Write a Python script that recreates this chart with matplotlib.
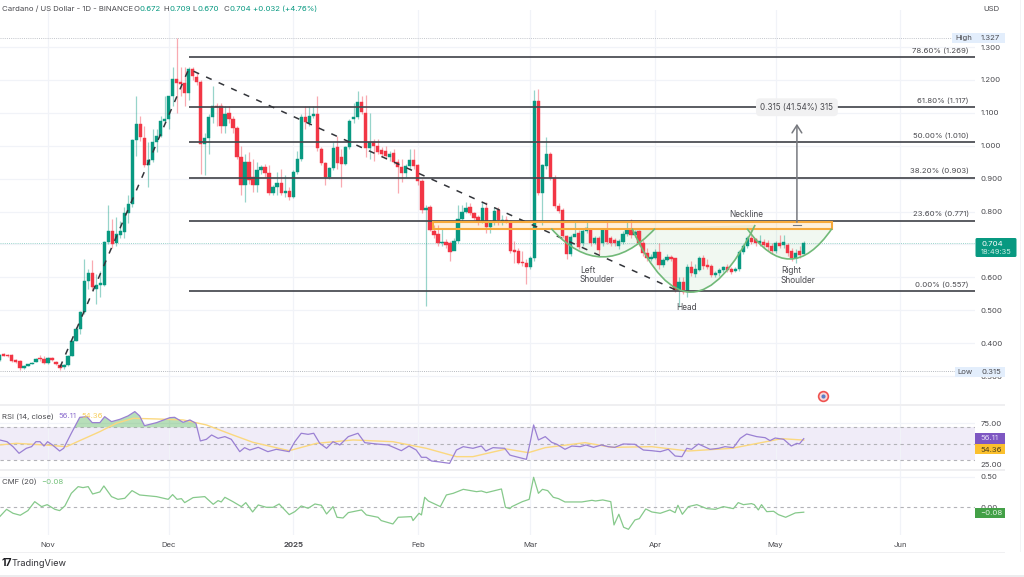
import numpy as np
import matplotlib
matplotlib.use("Agg")
import matplotlib.pyplot as plt
from matplotlib.patches import PathPatch, Rectangle, FancyBboxPatch
from matplotlib.path import Path

plt.rcParams['font.family'] = ['Inter', 'DejaVu Sans']

opens = [.349,.366,.365,.365,.350,.346,.323,.330,.336,.343,
 .355,.353,.339,.356,.343,.333,.327,.333,.362,.407,
 .444,.495,.589,.612,.566,.577,.578,.706,.742,.703,
 .730,.739,.797,.822,1.017,1.065,1.022,.941,.958,1.012,
 1.030,1.076,1.080,1.150,1.202,1.195,1.190,1.159,1.233,1.210,
 1.195,1.004,1.022,1.088,1.120,1.120,1.060,1.098,1.080,1.053,
 .967,.880,.950,.906,.880,.925,.936,.916,.857,.875,
 .888,.857,.861,.843,.919,.959,1.088,1.070,1.090,1.095,
 .990,.947,.906,.931,.997,.965,.944,.995,1.080,1.088,
 1.132,1.100,.992,1.010,1.000,.987,.985,.966,.977,.952,
 .934,.916,.938,.958,.940,.894,.805,.815,.742,.733,
 .703,.708,.703,.681,.711,.776,.800,.813,.797,.782,
 .769,.812,.754,.769,.804,.772,.775,.771,.683,.681,
 .647,.644,.630,.658,1.137,.855,.938,.974,.903,.817,
 .804,.725,.671,.723,.735,.705,.741,.746,.703,.718,
 .703,.748,.718,.713,.695,.708,.733,.744,.728,.740,
 .703,.675,.655,.660,.677,.637,.653,.661,.658,.562,
 .587,.556,.630,.610,.622,.658,.637,.634,.607,.612,
 .622,.630,.624,.620,.624,.678,.695,.721,.715,.705,
 .706,.703,.695,.681,.703,.698,.698,.680,.658,.680,.672]
closes = [.364,.362,.362,.346,.344,.323,.330,.336,.341,.353,
 .351,.340,.355,.349,.336,.323,.332,.362,.407,.444,
 .495,.589,.612,.571,.577,.582,.706,.742,.701,.733,
 .742,.797,.822,1.017,1.065,1.025,.941,.958,1.012,1.030,
 1.076,1.080,1.150,1.202,1.192,1.188,1.159,1.233,1.212,1.195,
 1.004,1.022,1.088,1.120,1.118,1.060,1.096,1.080,1.053,.967,
 .880,.952,.896,.880,.926,.936,.916,.857,.875,.888,
 .857,.861,.843,.919,.959,1.088,1.073,1.090,1.095,.992,
 .947,.906,.931,.994,.947,.944,.995,1.076,1.088,1.132,
 1.103,.992,1.010,1.000,.982,.974,.970,.974,.952,.934,
 .916,.938,.958,.938,.894,.805,.812,.744,.729,.703,
 .708,.698,.678,.711,.776,.800,.810,.797,.779,.769,
 .810,.754,.769,.802,.775,.775,.772,.681,.678,.645,
 .642,.630,.658,1.137,.855,.941,.974,.903,.817,.803,
 .725,.671,.723,.733,.693,.741,.750,.703,.718,.683,
 .743,.708,.703,.703,.710,.733,.744,.728,.737,.703,
 .673,.658,.662,.677,.637,.653,.663,.655,.562,.587,
 .556,.630,.612,.624,.658,.634,.630,.607,.612,.622,
 .630,.622,.617,.625,.678,.695,.721,.708,.703,.710,
 .698,.691,.681,.703,.695,.708,.675,.658,.675,.668,.704]
highs = [.368,.370,.368,.367,.352,.348,.332,.338,.343,.356,
 .363,.360,.358,.358,.346,.335,.335,.365,.410,.450,
 .497,.657,.625,.652,.610,.620,.710,.820,.778,.784,
 .770,.815,.850,1.020,1.150,1.090,1.060,1.010,1.050,1.050,
 1.090,1.150,1.152,1.240,1.327,1.240,1.240,1.240,1.240,1.220,
 1.200,1.040,1.095,1.180,1.130,1.130,1.120,1.120,1.090,1.060,
 1.000,.975,.980,.960,.950,.940,.945,.940,.880,.920,
 .930,.910,.875,.925,.985,1.095,1.120,1.120,1.120,1.150,
 .995,.950,.935,1.010,1.030,.990,1.000,1.080,1.130,1.165,
 1.150,1.155,1.100,1.020,1.020,.995,1.000,.985,.990,.960,
 .960,.945,.990,.990,.945,.900,.820,.820,.760,.760,
 .750,.715,.710,.720,.820,.820,.830,.825,.800,.790,
 .830,.830,.775,.815,.815,.790,.785,.775,.710,.690,
 .680,.655,.665,1.170,1.173,.945,1.025,.980,.910,.825,
 .810,.730,.730,.770,.745,.750,.770,.750,.725,.725,
 .750,.775,.725,.720,.715,.740,.770,.778,.745,.745,
 .712,.690,.672,.685,.705,.660,.670,.668,.660,.600,
 .600,.640,.650,.640,.665,.668,.655,.640,.620,.628,
 .635,.640,.630,.630,.682,.700,.725,.750,.720,.730,
 .715,.712,.705,.710,.728,.730,.705,.690,.685,.695,.709]
lows = [.345,.360,.358,.342,.340,.318,.322,.330,.335,.342,
 .345,.335,.335,.345,.332,.318,.322,.330,.360,.405,
 .428,.490,.565,.560,.519,.541,.575,.700,.690,.695,
 .720,.720,.765,.815,.970,1.015,.935,.875,.950,.980,
 1.025,1.070,1.050,1.120,1.100,1.150,1.120,1.140,1.200,1.185,
 .915,.910,.975,1.070,1.060,1.040,1.040,1.070,1.040,.960,
 .850,.830,.885,.860,.860,.915,.905,.850,.850,.850,
 .850,.845,.835,.840,.915,.955,1.050,1.060,1.085,.985,
 .940,.880,.900,.925,.930,.875,.940,.990,1.070,1.080,
 1.095,.965,.960,.955,.975,.965,.960,.955,.945,.855,
 .890,.905,.930,.930,.880,.795,.513,.740,.720,.695,
 .695,.690,.650,.690,.705,.770,.795,.790,.775,.760,
 .765,.735,.735,.760,.760,.760,.765,.675,.645,.640,
 .635,.580,.625,.650,.850,.760,.930,.895,.810,.795,
 .720,.655,.665,.725,.685,.695,.735,.695,.700,.670,
 .695,.700,.695,.695,.685,.700,.725,.720,.722,.695,
 .665,.650,.650,.655,.625,.630,.650,.650,.555,.510,
 .550,.539,.605,.600,.618,.625,.625,.600,.600,.605,
 .615,.615,.610,.615,.620,.670,.690,.700,.695,.695,
 .690,.680,.670,.675,.690,.690,.665,.650,.645,.660,.670]

rsi_days = [0,1.8,3.3,4.8,6.6,7.9,9,10,11,11.9,13.1,14.9,15.9,17.8,19.9,21.7,23,24.9,26.1,27.8,29.9,31.9,33.6,34.8,36,39,42.3,43.5,45.6,47.3,48.8,49.9,51.4,52.7,54.3,56,57.6,59.7,60.9,62.2,64.3,66.7,68.8,72,73.4,75,76.7,78.1,79.6,81.3,82.9,84.6,86.7,89.1,90.8,93.7,96.6,99.9,101.8,103.6,104.9,106.1,107.4,109.5,111.9,113.6,115.3,117.7,119.8,120.9,122.7,125.6,126.9,127.4,129,131,131.9,132.8,134,135.7,137.3,138.6,140.6,142.3,144.4,145.8,147.7,149.7,151.4,153,155.1,158,160.1,162.2,164.3,166.3,168,169.7,170.9,172.1,173.8,176.7,178.8,180.4,182.5,184.2,185.8,188.3,190.4,191.6,192.9,195,196.9,198.3,198.9,200]
rsi_vals = [54.5,52.4,46.3,38.2,44.3,46.3,52.4,52.4,47.1,52.4,48.4,41,44.3,62.7,82.2,83,75.7,75.7,83,76.9,79.8,83.9,89.2,83.9,72,75.7,81.8,82.2,76.1,79,74.9,53.3,55.3,60.6,56.5,58.6,55.3,40.2,45.1,42.2,45.5,40.2,43.1,40.2,52.4,62.7,61.4,62.7,50.4,44.3,52.4,48.4,58.6,62.7,51.2,49.6,48.4,41.4,47.1,42.2,33.3,33.3,28.8,27.6,25.9,42.2,46.3,44.3,47.1,41,45.1,44.3,36.1,35.3,33.3,30.8,50.4,72.9,54.5,58.6,51.6,49.2,43.1,47.1,46.3,48.4,45.5,48.4,46.3,45.5,49.6,49.2,42.2,41.4,40.2,43.1,34.9,34.1,44.3,43.1,49.6,43.1,44.3,46.3,45.1,56.5,61.8,58.6,57.3,53.7,56.9,55.3,47.1,50.4,49.6,56.11]
ma_days = [0,4.1,11.2,16.6,19.9,24.9,29,33.2,39,45.6,51.4,58,63,72,78.8,87.9,97.8,106.1,113.6,117.7,126,131.5,135.7,145.6,152.2,162.2,171.3,182.1,192,194.5,200]
ma_vals = [48.4,50.4,48.4,46.3,53.7,64.7,74.9,81,80.2,79,72.9,60.6,51.6,41.4,50.4,54.5,52.4,44.3,34.1,34.1,43.5,39,45.1,51.2,45.5,46.3,41,44.3,53.7,56.1,54.36]
cmf_days = [0,1.7,3.3,5.1,7,8.7,10.4,11.8,13.7,14.9,16.2,17.8,19.5,20.7,22,23.1,24.9,25.9,27.8,29.4,31.1,32.9,34.8,39,41.9,43,44.1,45.2,46,48.1,51,53.1,54.3,55.1,56,58,60.1,61.2,62.9,64.3,66.3,68,69.5,72,73.4,75,76.7,78.4,80,81.3,82.9,83.9,85.4,86.7,90,91.2,94.1,94.9,97.8,99.1,102.4,102.8,104.3,104.9,105.7,106.6,109.6,111.1,112.8,115.3,118.6,119.8,121.1,124.8,125.8,126.9,127.4,130,131.7,132.8,134,135,136.3,137.7,139,140.6,144.8,147.3,148.2,150,152,152.8,154,155.2,156.4,158,159.1,160.7,162.2,164.3,166.7,168,168.7,169.8,171.3,173.4,175.9,178,180,182.5,183.7,185,187,187.7,188.7,189.5,190.8,192.5,193.7,195.5,197.9,200]
cmf_vals = [-.152,-.033,-.098,-.13,-.054,.092,.011,.043,-.033,-.054,.022,.228,.337,.321,.337,.217,.25,.348,.174,.13,.147,.272,.201,.174,.13,.207,.13,.141,.076,.158,.174,.049,.109,.087,.163,.092,.011,.076,-.076,.038,0,0,.054,-.12,-.071,.022,-.016,.054,.033,-.109,.011,-.163,-.174,-.087,-.043,-.125,-.163,-.217,-.272,-.163,-.152,-.217,-.098,-.125,.163,.103,.011,.201,.228,.293,.255,.266,.239,.299,0,-.022,.011,.092,.13,.489,.228,.293,.272,.163,.141,.087,.087,.114,.103,.12,.092,-.288,-.114,-.326,-.359,-.207,-.185,-.027,-.076,-.098,-.043,-.087,.033,-.114,.011,.043,-.022,-.033,.011,-.022,.076,.043,.06,.043,-.043,.043,-.071,-.065,-.12,-.163,-.092,-.08]

fib_levels = [1.269, 1.117, 1.010, 0.903, 0.771, 0.557]
fib_labels = ['78.60% (1.269)', '61.80% (1.117)', '50.00% (1.010)', '38.20% (0.903)', '23.60% (0.771)', '0.00% (0.557)']
fib_start = 47
trend_days = [15, 47, 169]
trend_prices = [0.327, 1.233, 0.557]
price_ticks = [1.3, 1.2, 1.1, 1.0, 0.9, 0.8, 0.7, 0.6, 0.5, 0.4, 0.3]
month_days = [12, 42, 73, 104, 132, 163, 193, 224]
month_labels = ['Nov', 'Dec', '2025', 'Feb', 'Mar', 'Apr', 'May', 'Jun']
high_price, low_price, last_price = 1.327, 0.315, 0.704

W, H = 1024, 577
GREEN, RED = '#089981', '#F23645'
GRID = '#f1f3f8'
TXT = '#4a4a4f'
FS = 5.6

fig = plt.figure(figsize=(W / 100, H / 100), dpi=100, facecolor='white')
def rect(top, bottom, right=975):
    return [0, 1 - bottom / H, right / W, (bottom - top) / H]

ax = fig.add_axes(rect(10, 405))
ax_r = fig.add_axes(rect(406, 469))
ax_c = fig.add_axes(rect(471, 535))
XL = (0.06, 242.6)
for a in (ax, ax_r, ax_c):
    a.set_xlim(*XL)
    for s in a.spines.values():
        s.set_visible(False)
    a.set_xticks(month_days)
    a.grid(True, axis='x', color=GRID, lw=0.9)
    a.set_axisbelow(True)
    a.yaxis.tick_right()
    a.tick_params(length=0, labelsize=FS, labelcolor=TXT, pad=4)
ax.set_ylim(0.2119, 1.4125)
ax_r.set_ylim(19, 96.05)
ax_c.set_ylim(-0.452, 0.592)
ax.set_xticklabels([])
ax_r.set_xticklabels([])
ax_c.set_xticklabels(month_labels)
ax_c.tick_params(axis='x', pad=5)
for t, lab in zip(ax_c.get_xticklabels(), month_labels):
    if lab == '2025':
        t.set_fontweight('bold')

ax.set_yticks(price_ticks)
ax.set_yticklabels([f'{v:.3f}' for v in price_ticks])
ax.grid(True, axis='y', color=GRID, lw=0.9)
ax_r.set_yticks([75, 25])
ax_r.set_yticklabels(['75.00', '25.00'])
ax_c.set_yticks([0.5, 0.0])
ax_c.set_yticklabels(['0.50', '0.00'])
ax_c.axhline(0.5, color=GRID, lw=0.9, zorder=0)
ax_r.axhline(75, color=GRID, lw=0.9, zorder=0)

# level dots
ax.axhline(high_price, color='#c2c5cb', lw=0.7, ls=(0, (1, 1.2)), zorder=1)
ax.axhline(low_price, color='#b6b9bf', lw=0.7, ls=(0, (1, 1.2)), zorder=1)
ax.axhline(last_price, color=GREEN, lw=0.7, ls=(0, (1, 1.2)), alpha=.4, zorder=1)

# candles
days = np.arange(len(closes))
o, h, l, c = map(np.array, (opens, highs, lows, closes))
up = c >= o
cols = np.where(up, GREEN, RED)
ax.vlines(days, l, h, colors=cols, lw=0.9, alpha=.42, zorder=3)
ax.bar(days, np.abs(c - o), bottom=np.minimum(o, c), width=.82, color=cols, lw=.3, edgecolor=cols, zorder=4)

# fibonacci
for lv, lab in zip(fib_levels, fib_labels):
    ax.hlines(lv, fib_start, XL[1], color='#46484e', lw=1.25, zorder=5)
    ax.annotate(lab, (241.1, lv), xytext=(0, 5), textcoords='offset points', ha='right', va='center',
                fontsize=FS, color=TXT, zorder=6)

# trend
ax.plot(trend_days, trend_prices, color='#33353a', lw=1.1, ls=(0, (4, 5)), zorder=5)

# neckline box
ax.add_patch(Rectangle((107.8, .748), 99.3, .021, fc='#ffb74d', alpha=.2, ec='none', zorder=2))
ax.add_patch(Rectangle((107.8, .748), 99.3, .021, fc='none', ec='#f7a93a', lw=1.5, zorder=6))

# cup arcs
arcs = [((137.2, .748), (149.8, .576), (163.0, .748)),
        ((157.3, .748), (171.7, .3565), (187.9, .759)),
        ((185.9, .748), (196.6, .563), (207.0, .748))]
for p0, p1, p2 in arcs:
    verts = [p0, p1, p2, p0]
    ax.add_patch(PathPatch(Path(verts, [Path.MOVETO, Path.CURVE3, Path.CURVE3, Path.CLOSEPOLY]),
                           fc='#66bb6a', alpha=.09, ec='none', zorder=2))
    ax.add_patch(PathPatch(Path(verts[:3], [Path.MOVETO, Path.CURVE3, Path.CURVE3]),
                           fc='none', ec='#71b978', lw=1.2, zorder=6))

# annotations
note = dict(fontsize=6, color=TXT, zorder=7, va='center')
ax.text(185.6, .791, 'Neckline', ha='center', **note)
ax.text(144.3, .608, 'Left\nShoulder', ha='left', linespacing=1.05, **note)
ax.text(170.9, .5075, 'Head', ha='center', **note)
ax.text(194.3, .605, 'Right\nShoulder', ha='left', linespacing=1.05, **note)
ax.annotate('', xy=(198.3, 1.075), xytext=(198.3, .759),
            arrowprops=dict(arrowstyle='->,head_width=.35,head_length=.55', color='#77797f', lw=1.1), zorder=7)
ax.plot([197.3, 199.3], [.759, .759], color='#77797f', lw=.8, zorder=7)
ax.text(198.3, 1.117, '0.315 (41.54%) 315', ha='center', va='center', fontsize=FS + .2, color=TXT, zorder=8,
        bbox=dict(boxstyle='round,pad=.55,rounding_size=.5', fc='#f1f1f2', ec='none'))
ax.plot([204.8], [.2392], 'o', ms=7, mfc='#f6d8da', mec='#ef5350', mew=1.2, zorder=6)
ax.plot([204.8], [.2392], 'o', ms=3, mfc='#5b7fc7', mec='none', zorder=7)

# RSI
ax_r.axhspan(30, 70, color='#7e57c2', alpha=.11, lw=0, zorder=0)
for lv in (70, 50, 30):
    ax_r.axhline(lv, color='#b3b3b8', lw=.8, ls=(0, (3, 3)), zorder=1)
rd, rv = np.array(rsi_days), np.array(rsi_vals)
ax_r.fill_between(rd, 70, rv, where=rv > 70, interpolate=True, color='#4caf50', alpha=.4, lw=0, zorder=2)
ax_r.plot(ma_days, ma_vals, color='#fbd87f', lw=1, zorder=3)
ax_r.plot(rd, rv, color='#9a80d3', lw=.9, zorder=4)

# CMF
ax_c.axhline(0, color='#b3b3b8', lw=.8, ls=(0, (3, 3)), zorder=1)
ax_c.plot(cmf_days, cmf_vals, color='#86c98b', lw=.9, zorder=3)

# chrome overlay in figure pixels
ov = fig.add_axes([0, 0, 1, 1], zorder=10)
ov.set_xlim(0, W)
ov.set_ylim(H, 0)
ov.axis('off')
ov.patch.set_alpha(0)
def bar(x0, y0, x1, y1, col, **kw):
    ov.add_patch(Rectangle((x0, y0), x1 - x0, y1 - y0, fc=col, ec='none', **kw))
def txt(x, y, s, col=TXT, size=FS, ha='left', **kw):
    ov.text(x, y, s, color=col, fontsize=size, ha=ha, va='center', **kw)

bar(0, 404, 1005, 405.5, '#efeff1')
bar(0, 469, 1005, 471, '#efeff1')
bar(0, 551.5, 1005, 552.5, '#f0f0f2')
bar(0, 574.5, W, H, '#ececee')
bar(1019.5, 0, 1020.5, 552, '#f3f3f5')

x = 2.5
txt(x, 9, 'Cardano / US Dollar - 1D - BINANCE', size=FS)
txt(133, 9, 'O', size=FS); txt(139, 9, '0.672', GREEN, FS)
txt(163, 9, 'H', size=FS); txt(169, 9, '0.709', GREEN, FS)
txt(192, 9, 'L', size=FS); txt(197, 9, '0.670', GREEN, FS)
txt(223, 9, 'C', size=FS); txt(229, 9, '0.704', GREEN, FS)
txt(253, 9, '+0.032 (+4.76%)', GREEN, FS)
txt(983, 9, 'USD')

bar(952, 33, 1005, 43, '#e3eefc')
txt(955, 38, 'High'); txt(981, 38, '1.327')
bar(955, 367, 1005, 377, '#e3eefc')
txt(957, 372, 'Low'); txt(981, 372, '0.315')
ov.add_patch(FancyBboxPatch((976, 238.5), 40, 18, boxstyle='round,pad=0.5,rounding_size=1.5', fc=GREEN, ec='none'))
txt(981, 243.5, '0.704', 'white'); txt(981, 252.5, '18:49:35', '#cdeee5', FS - .2)

bar(975, 433, 1005, 444, '#7e57c2'); txt(980, 438.5, '56.11', '#e6dcf7')
bar(975, 444, 1005, 454, '#fbc02d'); txt(980, 449.5, '54.36', '#4a4020')
bar(975, 508, 1005, 518, '#43a047'); txt(980, 513, '−0.08', '#dff2df')

txt(2.5, 416.5, 'RSI (14, close)')
txt(58, 416.5, '56.11', '#8e70cf'); txt(81, 416.5, '54.36', '#f7cf5f')
txt(2.5, 481.5, 'CMF (20)')
txt(41, 481.5, '−0.08', '#74c17a')

txt(1, 563.5, '17', '#1b1b1f', 7.5, fontweight='bold')
txt(12, 563.5, 'TradingView', '#303035', 6.6)

fig.savefig('out.png', dpi=100, facecolor='white')
